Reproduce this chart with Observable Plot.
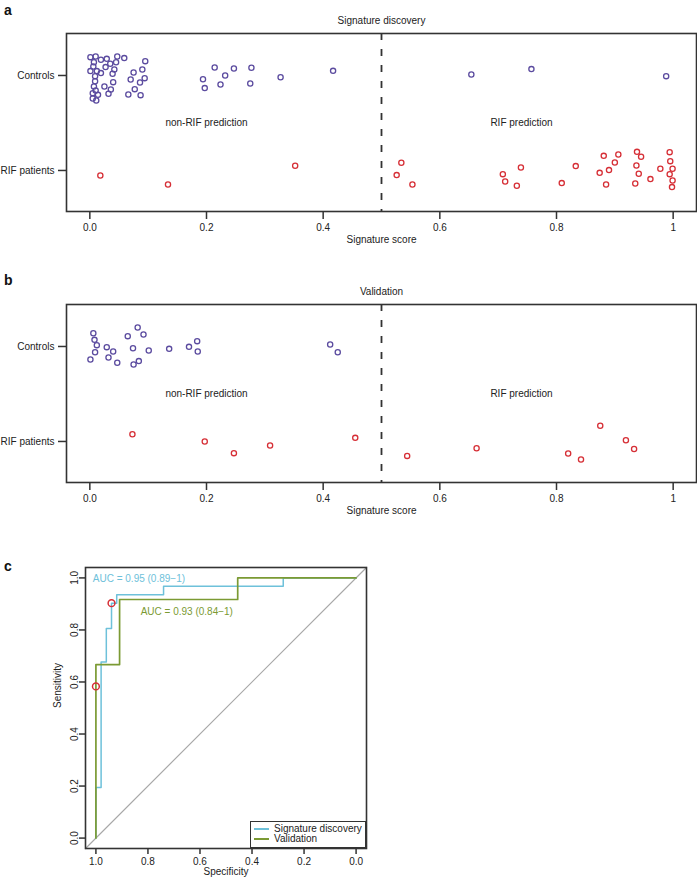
<!DOCTYPE html>
<html><head><meta charset="utf-8">
<script src="https://cdn.jsdelivr.net/npm/d3@7"></script>
<script src="https://cdn.jsdelivr.net/npm/@observablehq/plot@0.6"></script>
<style>
body{margin:0;background:#fff;font-family:"Liberation Sans",Arial,sans-serif;}
#root{position:relative;width:697px;height:880px;overflow:hidden;background:#fff;}
.panel{position:absolute;left:0;}
.panel svg{overflow:visible;}
.lab{position:absolute;font-weight:bold;font-size:14px;color:#111;line-height:14px;}
.legend{position:absolute;left:250px;top:821px;width:114px;height:25px;border:1.5px solid #333;background:#fff;font-size:10px;color:#222;}
.legend .row{position:absolute;left:3px;height:10px;line-height:10px;white-space:nowrap;}
.legend .sw{display:inline-block;width:15px;height:0;border-top:2px solid;vertical-align:middle;margin-right:5px;}
</style></head><body><div id="root"></div>
<script>
// ---------- data ----------
const groupNames = ["RIF patients", "Controls"]; // y = 1, 2
const xTicks = [0, 0.2, 0.4, 0.6, 0.8, 1];
const xTickLabels = ["0.0", "0.2", "0.4", "0.6", "0.8", "1"];
const threshold = 0.5;
const predictionLabels = ["non-RIF prediction", "RIF prediction"];
const predictionX = [0.2, 0.74];
const predictionY = [1.5, 1.5];

// Signature discovery
const discControlScore = [0.001,0.010,0.019,0.029,0.047,0.059,0.007,0.035,0.045,0.027,0.042,0.006,0.001,0.012,0.019,0.039,0.095,0.090,0.075,0.094,0.070,0.086,0.009,0.009,0.040,0.007,0.025,0.077,0.036,0.010,0.005,0.014,0.032,0.066,0.087,0.005,0.011,0.214,0.247,0.277,0.232,0.194,0.224,0.197,0.275,0.327,0.417,0.654,0.757,0.988];
const discControlJitter = [0.193,0.200,0.165,0.175,0.200,0.183,0.140,0.123,0.140,0.088,0.063,0.095,0.046,0.046,0.025,0.018,0.151,0.063,0.032,-0.028,-0.042,-0.074,-0.007,-0.060,-0.070,-0.116,-0.116,-0.144,-0.147,-0.158,-0.186,-0.204,-0.193,-0.200,-0.207,-0.242,-0.263,0.084,0.074,0.081,0.000,-0.039,-0.095,-0.133,-0.084,-0.018,0.049,0.011,0.067,-0.007];
const discRifScore = [0.018,0.134,0.352,0.534,0.526,0.553,0.708,0.739,0.712,0.732,0.809,0.833,0.881,0.906,0.900,0.874,0.890,0.885,0.938,0.945,0.937,0.941,0.935,0.978,0.961,0.994,0.995,0.999,0.994,0.999,0.998];
const discRifJitter = [-0.053,-0.147,0.049,0.081,-0.049,-0.147,-0.039,0.032,-0.116,-0.161,-0.133,0.046,0.154,0.168,0.084,-0.025,0.004,-0.147,0.196,0.144,0.053,-0.035,-0.137,0.018,-0.091,0.193,0.098,0.018,-0.039,-0.105,-0.175];

// Validation
const valControlScore = [0.006,0.008,0.012,0.029,0.040,0.009,0.001,0.032,0.047,0.065,0.082,0.092,0.074,0.101,0.084,0.075,0.136,0.170,0.184,0.185,0.412,0.425];
const valControlJitter = [0.140,0.070,0.014,-0.007,-0.053,-0.060,-0.137,-0.116,-0.172,0.109,0.200,0.126,-0.018,-0.042,-0.154,-0.189,-0.025,-0.004,0.056,-0.053,0.021,-0.060];
const valRifScore = [0.073,0.197,0.247,0.309,0.455,0.544,0.663,0.820,0.842,0.875,0.919,0.933];
const valRifJitter = [0.076,0.000,-0.123,-0.042,0.038,-0.152,-0.072,-0.127,-0.190,0.165,0.013,-0.080];

// ROC curves (specificity, sensitivity)
const rocDiscSpec = [1,1,0.98,0.98,0.96,0.96,0.94,0.94,0.92,0.92,0.74,0.74,0.28,0.28,0];
const rocDiscSens = [0,0.194,0.194,0.677,0.677,0.806,0.806,0.903,0.903,0.935,0.935,0.968,0.968,1,1];
const rocValSpec = [1,1,0.909,0.909,0.455,0.455,0];
const rocValSens = [0,0.667,0.667,0.917,0.917,1,1];
const cutoffSpec = [0.94, 1];
const cutoffSens = [0.903, 0.583];
const aucLabels = ["AUC = 0.95 (0.89\u22121)", "AUC = 0.93 (0.84\u22121)"];
const aucX = [1.012, 0.828];
const aucY = [0.995, 0.87];
const rocTicks = [0, 0.2, 0.4, 0.6, 0.8, 1];
const rocTickLabels = ["0.0", "0.2", "0.4", "0.6", "0.8", "1.0"];
const rocDomain = [-0.04, 1.04];
const seriesNames = ["Signature discovery", "Validation"];

// ---------- styles ----------
const FONT = "'Liberation Sans', Arial, Helvetica, sans-serif";
const INK = "#222";
const FRAME = "#333";
const PURPLE = "#5B4B9F";
const RED = "#D62F36";
const BLUE = "#6EC1DA";
const GREEN = "#7B9A33";

const root = document.getElementById("root");
function place(node, top) {
  const d = document.createElement("div");
  d.className = "panel";
  d.style.top = top + "px";
  d.appendChild(node);
  root.appendChild(d);
}
function label(t, left, top) {
  const d = document.createElement("div");
  d.className = "lab"; d.textContent = t;
  d.style.left = left + "px"; d.style.top = top + "px";
  root.appendChild(d);
}

function stripPanel(title, cS, cJ, rS, rJ) {
  const pts = [
    ...cS.map((s, i) => ({score: s, y: 2 + cJ[i], g: "Controls"})),
    ...rS.map((s, i) => ({score: s, y: 1 + rJ[i], g: "RIF patients"}))
  ];
  return Plot.plot({
    width: 697, height: 260,
    marginLeft: 66, marginRight: 1, marginTop: 33, marginBottom: 49,
    style: {fontFamily: FONT, fontSize: "10px", color: INK, background: "white"},
    x: {domain: [-0.04, 1.04]},
    y: {domain: [0.568, 2.442]},
    color: {domain: ["Controls", "RIF patients"], range: [PURPLE, RED]},
    marks: [
      Plot.ruleX([threshold], {stroke: FRAME, strokeWidth: 1.8, strokeDasharray: "7,9"}),
      Plot.frame({stroke: FRAME, strokeWidth: 1.6}),
      Plot.axisX({ticks: xTicks, tickFormat: d => xTickLabels[xTicks.indexOf(d)], tickSize: 8, tickPadding: 4, stroke: FRAME, strokeWidth: 1.5, label: null, fill: INK}),
      Plot.axisY({ticks: [1, 2], tickFormat: d => groupNames[d - 1], tickSize: 8, tickPadding: 4, stroke: FRAME, strokeWidth: 1.5, label: null, fill: INK}),
      Plot.text(predictionLabels, {x: (d, i) => predictionX[i], y: (d, i) => predictionY[i], fill: INK, fontSize: 10}),
      Plot.dot(pts, {x: "score", y: "y", stroke: "g", r: 2.6, strokeWidth: 1.3}),
      Plot.text([title], {frameAnchor: "top", dy: -17, fill: INK, fontSize: 10}),
      Plot.text(["Signature score"], {frameAnchor: "bottom", dy: 31, fill: INK, fontSize: 10})
    ]
  });
}

place(stripPanel("Signature discovery", discControlScore, discControlJitter, discRifScore, discRifJitter), 0);
place(stripPanel("Validation", valControlScore, valControlJitter, valRifScore, valRifJitter), 271);

// ROC panel
const discRoc = rocDiscSpec.map((s, i) => ({spec: s, sens: rocDiscSens[i]}));
const valRoc = rocValSpec.map((s, i) => ({spec: s, sens: rocValSens[i]}));
const diag = [{spec: rocDomain[1], sens: rocDomain[0]}, {spec: rocDomain[0], sens: rocDomain[1]}];
const cut = cutoffSpec.map((s, i) => ({spec: s, sens: cutoffSens[i]}));
const auc = aucLabels.map((t, i) => ({t, spec: aucX[i], sens: aucY[i], c: seriesNames[i]}));

const roc = Plot.plot({
  width: 380, height: 340,
  marginLeft: 85, marginRight: 14, marginTop: 27, marginBottom: 32,
  style: {fontFamily: FONT, fontSize: "10px", color: INK, background: "white"},
  x: {domain: [rocDomain[1], rocDomain[0]]},
  y: {domain: rocDomain},
  color: {domain: seriesNames, range: [BLUE, GREEN]},
  marks: [
    Plot.line(diag, {x: "spec", y: "sens", stroke: "#A8A8A8", strokeWidth: 1.2}),
    Plot.line(discRoc, {x: "spec", y: "sens", stroke: BLUE, strokeWidth: 1.5}),
    Plot.line(valRoc, {x: "spec", y: "sens", stroke: GREEN, strokeWidth: 1.7}),
    Plot.dot(cut, {x: "spec", y: "sens", stroke: RED, r: 3.4, strokeWidth: 1.5}),
    Plot.text(auc, {x: "spec", y: "sens", text: "t", fill: "c", textAnchor: "start", fontSize: 10}),
    Plot.frame({stroke: FRAME, strokeWidth: 1.6}),
    Plot.axisX({ticks: rocTicks, tickFormat: d => rocTickLabels[rocTicks.indexOf(d)], tickSize: 6, tickPadding: 3, stroke: FRAME, strokeWidth: 1.5, label: null, fill: INK}),
    Plot.axisY({ticks: rocTicks, tickFormat: d => rocTickLabels[rocTicks.indexOf(d)], tickSize: 6, tickPadding: 2, tickRotate: -90, stroke: FRAME, strokeWidth: 1.5, label: null, fill: INK}),
    Plot.text(["Specificity"], {frameAnchor: "bottom", dy: 26, fill: INK, fontSize: 10}),
    Plot.text(["Sensitivity"], {frameAnchor: "left", dx: -28, rotate: -90, fill: INK, fontSize: 10})
  ]
});
place(roc, 540);

// legend
const lg = document.createElement("div");
lg.className = "legend";
seriesNames.forEach((n, i) => {
  const r = document.createElement("div");
  r.className = "row";
  r.style.top = (2 + i * 10) + "px";
  const sw = document.createElement("span");
  sw.className = "sw";
  sw.style.borderColor = [BLUE, GREEN][i];
  r.appendChild(sw);
  r.appendChild(document.createTextNode(n));
  lg.appendChild(r);
});
root.appendChild(lg);

label("a", 4, 3);
label("b", 4, 273);
label("c", 4, 559);
</script></body></html>
